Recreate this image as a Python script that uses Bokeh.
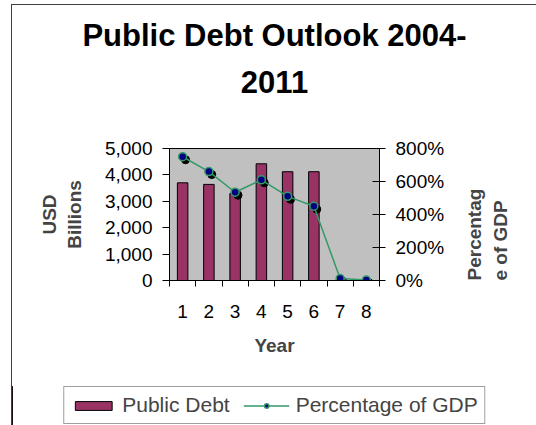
import math
from bokeh.plotting import figure
from bokeh.models import (Range1d, LinearAxis, FixedTicker, NumeralTickFormatter,
                          Legend, LegendItem, Title, ColumnDataSource)
from bokeh.layouts import column
from bokeh.transform import dodge
from bokeh.embed import file_html
from bokeh.resources import INLINE

# ---- data ----
years = [1, 2, 3, 4, 5, 6, 7, 8]
public_debt = [3700, 3640, 3300, 4420, 4120, 4120, 0, 0]          # USD billions
pct_gdp = [7.50, 6.60, 5.35, 6.10, 5.10, 4.50, 0.12, 0.03]        # fraction (7.5 = 750%)
debt_ticks = [0, 1000, 2000, 3000, 4000, 5000]
pct_ticks = [0, 2, 4, 6, 8]
title_line1 = "Public Debt Outlook 2004-"
title_line2 = "2011"
series_names = ["Public Debt", "Percentage of GDP"]

FONT = "Liberation Sans"
TICK_FS = "19px"
LABEL_FS = "19px"
BAR_COLOR = "#993366"
LINE_COLOR = "#339966"
MARK_COLOR = "#000080"


def strip(height, xr=(0, 1)):
    f = figure(width=524, height=height, output_backend="svg", toolbar_location=None,
               x_range=Range1d(*xr), y_range=Range1d(0, 1),
               x_axis_location=None, y_axis_location=None,
               min_border_left=0, min_border_right=0, min_border_top=0, min_border_bottom=0)
    f.outline_line_color = None
    f.xgrid.visible = False
    f.ygrid.visible = False
    f.background_fill_color = "white"
    f.border_fill_color = "white"
    return f


# ---- title strip (frame aligned with the chart so titles centre on the plot area) ----
tf = strip(100)
t2 = Title(text=title_line2, align="center", text_font=FONT, text_font_size="31px",
           text_font_style="bold", text_color="black", standoff=12)
t1 = Title(text=title_line1, align="center", text_font=FONT, text_font_size="31px",
           text_font_style="bold", text_color="black", standoff=20)
tf.add_layout(t2, "above")
tf.add_layout(t1, "above")

# ---- main chart ----
p = figure(width=524, height=281, output_backend="svg", toolbar_location=None,
           x_range=Range1d(0.5, 8.5), y_range=Range1d(0, 5000),
           min_border_left=157, min_border_right=149,
           min_border_top=43, min_border_bottom=106)
p.extra_y_ranges = {"pct": Range1d(0, 8)}

p.background_fill_color = "#C0C0C0"
p.border_fill_color = "white"
p.outline_line_color = "black"
p.outline_line_width = 1
p.xgrid.visible = False
p.ygrid.visible = False

# x axis
xa = p.xaxis[0]
xa.ticker = FixedTicker(ticks=years, minor_ticks=[y - 0.5 for y in years] + [8.5])
xa.major_tick_out = 0
xa.major_tick_in = 0
xa.minor_tick_out = 6
xa.minor_tick_in = 0
xa.axis_line_color = "black"
xa.minor_tick_line_color = "black"
xa.major_label_standoff = 18
xa.major_label_text_font = FONT
xa.major_label_text_font_size = TICK_FS
xa.major_label_text_color = "black"
xa.axis_label = "Year"
xa.axis_label_text_font = FONT
xa.axis_label_text_font_size = LABEL_FS
xa.axis_label_text_font_style = "bold"
xa.axis_label_standoff = 14

# left axis
ya = p.yaxis[0]
ya.ticker = FixedTicker(ticks=debt_ticks)
ya.formatter = NumeralTickFormatter(format="0,0")
ya.major_tick_out = 7
ya.major_tick_in = 0
ya.minor_tick_out = 0
ya.minor_tick_in = 0
ya.axis_line_color = "black"
ya.major_tick_line_color = "black"
ya.major_label_standoff = 10
ya.major_label_text_font = FONT
ya.major_label_text_font_size = TICK_FS
ya.major_label_text_color = "black"
ya.axis_label = "USD\nBillions"
ya.axis_label_text_font = FONT
ya.axis_label_text_font_size = LABEL_FS
ya.axis_label_text_font_style = "bold"
ya.axis_label_standoff = 17

# right axis (ticks + labels)
ra = LinearAxis(y_range_name="pct", ticker=FixedTicker(ticks=pct_ticks),
                formatter=NumeralTickFormatter(format="0%"))
ra.major_tick_out = 6
ra.major_tick_in = 7
ra.minor_tick_out = 0
ra.minor_tick_in = 0
ra.axis_line_color = "black"
ra.major_tick_line_color = "black"
ra.major_label_standoff = 10
ra.major_label_text_font = FONT
ra.major_label_text_font_size = TICK_FS
ra.major_label_text_color = "black"
p.add_layout(ra, "right")

# right axis title (separate axis carrying only the label, reading bottom-to-top)
rt = LinearAxis(y_range_name="pct", ticker=FixedTicker(ticks=[1.0]),
                major_tick_out=0, major_tick_in=0, minor_tick_out=0, minor_tick_in=0,
                major_label_standoff=0, axis_line_color=None,
                major_tick_line_color=None, minor_tick_line_color=None,
                major_label_text_font_size="8px", major_label_text_color=None,
                major_label_overrides={1.0: ""})
rt.axis_label = "Percentag\ne of GDP"
rt.axis_label_text_font = FONT
rt.axis_label_text_font_size = LABEL_FS
rt.axis_label_text_font_style = "bold"
rt.axis_label_standoff = 40
try:
    rt.axis_label_orientation = math.pi / 2
except Exception:
    pass
try:
    rt.axis_label_align = "start"
except Exception:
    pass
p.add_layout(rt, "right")

# glyphs
src = ColumnDataSource(dict(year=years, debt=public_debt, pct=pct_gdp))
p.vbar(x="year", top="debt", width=0.4, source=src,
       fill_color=BAR_COLOR, line_color="black", line_width=1)
p.scatter(x=dodge("year", 0.11), y=dodge("pct", -0.18), source=src, y_range_name="pct",
          size=8, fill_color="black", line_color="black")
p.line(x="year", y="pct", source=src, y_range_name="pct",
       line_color=LINE_COLOR, line_width=1.5)
p.scatter(x="year", y="pct", source=src, y_range_name="pct", size=8,
          fill_color=MARK_COLOR, line_color=LINE_COLOR, line_width=1.5)

# ---- legend strip: renderers share the data but sit outside this strip's view,
# so only their legend keys show ----
leg = strip(39, xr=(100, 101))
try:
    leg.frame_align = False
except Exception:
    pass
lb = leg.vbar(x="year", top="debt", width=0.4, source=src,
              fill_color=BAR_COLOR, line_color="black", line_width=1)
ll = leg.line(x="year", y="pct", source=src, line_color=LINE_COLOR, line_width=1.5)
lm = leg.scatter(x="year", y="pct", source=src, size=8,
                 fill_color=MARK_COLOR, line_color=LINE_COLOR, line_width=1.5)
legend = Legend(items=[LegendItem(label=series_names[0], renderers=[lb]),
                       LegendItem(label=series_names[1], renderers=[ll, lm])],
                orientation="horizontal", location="top_center", margin=0,
                label_text_font=FONT, label_text_font_size="21px",
                glyph_width=46, glyph_height=11, label_standoff=6, spacing=14,
                padding=6, border_line_color="#404040", border_line_width=1,
                background_fill_color="white", background_fill_alpha=1.0)
leg.add_layout(legend)

layout = column(tf, p, leg, margin=(4, 0, 0, 11),
                styles={"border-left": "1px solid #404040", "border-top": "1px solid #404040"})

open("out.html", "w").write(file_html(layout, INLINE))
